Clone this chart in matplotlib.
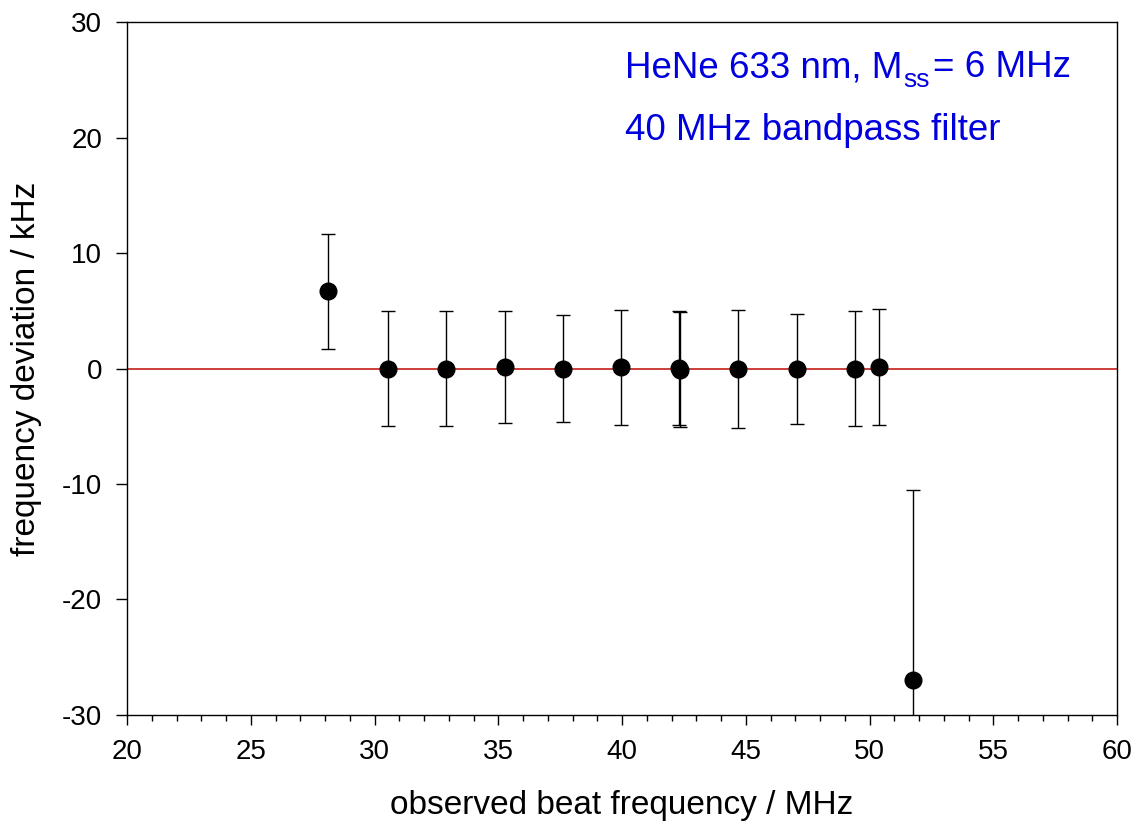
import matplotlib
matplotlib.use('Agg')
import matplotlib.pyplot as plt
from matplotlib.ticker import MultipleLocator

plt.rcParams['font.family'] = ['Liberation Sans', 'DejaVu Sans']
plt.rcParams['axes.unicode_minus'] = False

# observed beat frequency (MHz), deviation (kHz), error (kHz)
beat_freq = [28.12, 30.56, 32.88, 35.27, 37.60, 39.95, 42.30, 42.36, 44.70, 47.08, 49.43, 50.40, 51.74]
deviation = [6.7, 0.0, 0.0, 0.1, 0.0, 0.1, 0.05, -0.1, -0.03, -0.04, 0.0, 0.13, -27.0]
error = [4.98, 5.02, 5.0, 4.85, 4.62, 4.96, 4.97, 4.97, 5.09, 4.76, 4.98, 5.02, 16.5]

blue = '#0000dd'

fig = plt.figure(figsize=(11.36, 8.31), dpi=100)
ax = fig.add_axes([0.1118, 0.1396, 0.8715, 0.8339])

ax.axhline(0, color='#c8302a', lw=1.3, zorder=1)
ax.errorbar(beat_freq, deviation, yerr=error, fmt='o', color='black',
            ms=12, ecolor='black', elinewidth=1, capsize=5, capthick=1, zorder=3)

ax.set_xlim(20, 60)
ax.set_ylim(-30, 30)
ax.xaxis.set_major_locator(MultipleLocator(5))
ax.xaxis.set_minor_locator(MultipleLocator(1))
ax.yaxis.set_major_locator(MultipleLocator(10))
ax.tick_params(axis='x', which='major', direction='out', length=7, width=1, labelsize=20, pad=10)
ax.tick_params(axis='x', which='minor', direction='out', length=4, width=1)
ax.tick_params(axis='y', which='major', direction='out', length=8, width=1, labelsize=20, pad=10)
for s in ax.spines.values():
    s.set_linewidth(1)

ax.set_xlabel('observed beat frequency / MHz', fontsize=24, labelpad=18)
ax.set_ylabel('frequency deviation / kHz', fontsize=24, labelpad=14)

# label with a big, low subscript like the original
t1 = ax.text(0.503, 0.9206, 'HeNe 633 nm, M', transform=ax.transAxes,
             color=blue, fontsize=26.5, va='baseline', ha='left')
t2 = ax.annotate('ss', xy=(1, 0), xycoords=t1, xytext=(1, -5), textcoords='offset points',
                 color=blue, fontsize=19, va='bottom', ha='left')
ax.annotate('= 6 MHz', xy=(1, 0), xycoords=(t2, t1), xytext=(2, 0), textcoords='offset points',
            color=blue, fontsize=26.5, va='bottom', ha='left')
ax.text(0.503, 0.8297, '40 MHz bandpass filter', transform=ax.transAxes,
        color=blue, fontsize=26.5, va='baseline', ha='left')

fig.savefig('out.png', dpi=100)
